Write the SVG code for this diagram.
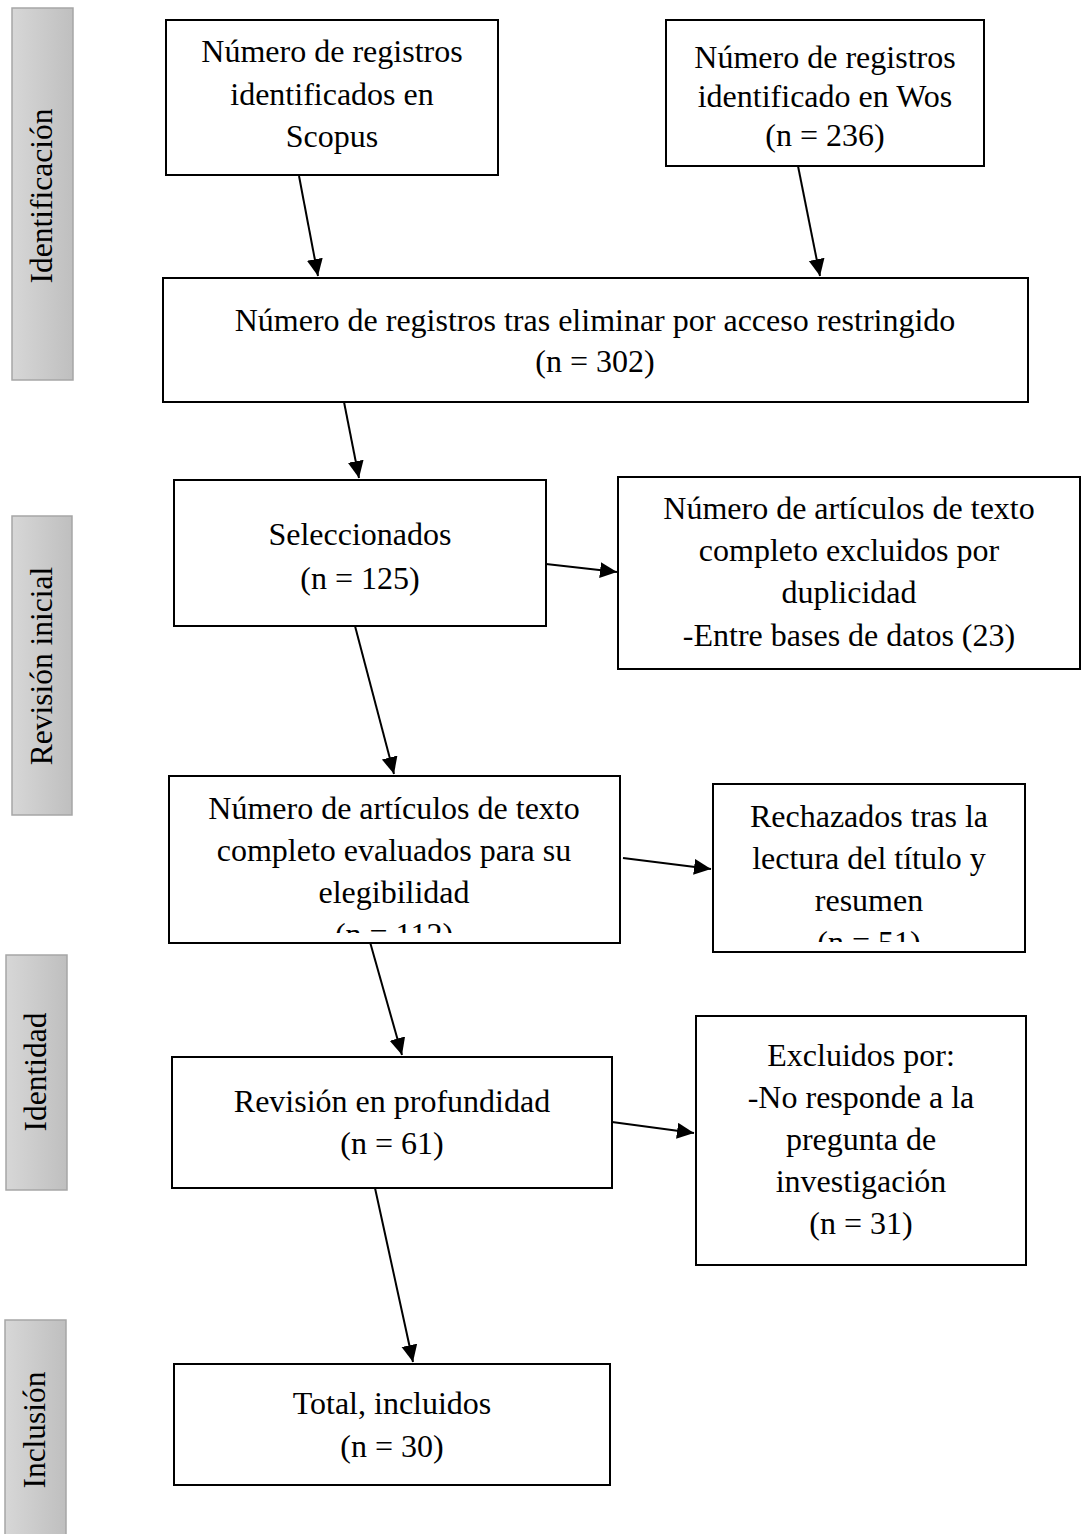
<svg xmlns="http://www.w3.org/2000/svg" width="1082" height="1534" viewBox="0 0 1082 1534">
<style>
.box{fill:#fff;stroke:#000;stroke-width:2}
.bar{fill:url(#g);stroke:#a6a6a6;stroke-width:1.5}
.t{font-family:"Liberation Serif","Times New Roman",serif;font-size:32px;fill:#000;text-anchor:middle}
.s{font-family:"Liberation Serif","Times New Roman",serif;font-size:31.5px;fill:#000;text-anchor:middle}
.c{stroke:#000;stroke-width:2;fill:none;marker-end:url(#ah)}
</style>
<defs>
<linearGradient id="g" x1="0" y1="0" x2="1" y2="0">
<stop offset="0" stop-color="#d7d7d7"/>
<stop offset="1" stop-color="#bfbfbf"/>
</linearGradient>
<marker id="ah" markerUnits="userSpaceOnUse" markerWidth="20" markerHeight="18" refX="17" refY="8" orient="auto">
<path d="M0,0 L17,8 L0,16 z" fill="#000"/>
</marker>
<clipPath id="clipA"><rect x="170" y="777" width="449" height="156"/></clipPath>
<clipPath id="clipR"><rect x="714" y="785" width="310" height="157"/></clipPath>
</defs>

<g id="phase-identificacion">
<rect class="bar" x="12" y="8" width="61" height="372"/>
<text class="s" transform="translate(52,196) rotate(-90)">Identificación</text>
</g>
<g id="phase-revision">
<rect class="bar" x="12" y="516" width="60" height="299"/>
<text class="s" transform="translate(52,666) rotate(-90)">Revisión inicial</text>
</g>
<g id="phase-identidad">
<rect class="bar" x="6" y="955" width="61" height="235"/>
<text class="s" transform="translate(46,1072) rotate(-90)">Identidad</text>
</g>
<g id="phase-inclusion">
<rect class="bar" x="5" y="1320" width="61" height="220"/>
<text class="s" transform="translate(45,1430) rotate(-90)">Inclusión</text>
</g>

<g id="connectors">
<line class="c" x1="299" y1="176" x2="318" y2="276"/>
<line class="c" x1="798" y1="166" x2="820" y2="276"/>
<line class="c" x1="344" y1="402" x2="359" y2="478"/>
<line class="c" x1="546" y1="564" x2="617" y2="572"/>
<line class="c" x1="355" y1="626" x2="394" y2="774"/>
<line class="c" x1="623" y1="858" x2="711" y2="869"/>
<line class="c" x1="370" y1="942" x2="402" y2="1055"/>
<line class="c" x1="612" y1="1122" x2="694" y2="1133"/>
<line class="c" x1="375" y1="1188" x2="413" y2="1362"/>
</g>

<g id="scopus">
<rect class="box" x="166" y="20" width="332" height="155"/>
<text class="t" x="332" y="62">Número de registros</text>
<text class="t" x="332" y="105">identificados en</text>
<text class="t" x="332" y="147">Scopus</text>
</g>
<g id="wos">
<rect class="box" x="666" y="20" width="318" height="146"/>
<text class="t" x="825" y="68">Número de registros</text>
<text class="t" x="825" y="107">identificado en Wos</text>
<text class="t" x="825" y="146">(n = 236)</text>
</g>
<g id="tras-eliminar">
<rect class="box" x="163" y="278" width="865" height="124"/>
<text class="t" x="595" y="331">Número de registros tras eliminar por acceso restringido</text>
<text class="t" x="595" y="372">(n = 302)</text>
</g>
<g id="seleccionados">
<rect class="box" x="174" y="480" width="372" height="146"/>
<text class="t" x="360" y="545">Seleccionados</text>
<text class="t" x="360" y="589">(n = 125)</text>
</g>
<g id="excluidos-duplicidad">
<rect class="box" x="618" y="477" width="462" height="192"/>
<text class="t" x="849" y="519">Número de artículos de texto</text>
<text class="t" x="849" y="561">completo excluidos por</text>
<text class="t" x="849" y="603">duplicidad</text>
<text class="t" x="849" y="646">-Entre bases de datos (23)</text>
</g>
<g id="evaluados">
<rect class="box" x="169" y="776" width="451" height="167"/>
<g clip-path="url(#clipA)">
<text class="t" x="394" y="819">Número de artículos de texto</text>
<text class="t" x="394" y="861">completo evaluados para su</text>
<text class="t" x="394" y="903">elegibilidad</text>
<text class="t" x="394" y="945">(n = 112)</text>
</g>
</g>
<g id="rechazados">
<rect class="box" x="713" y="784" width="312" height="168"/>
<g clip-path="url(#clipR)">
<text class="t" x="869" y="827">Rechazados tras la</text>
<text class="t" x="869" y="869">lectura del título y</text>
<text class="t" x="869" y="911">resumen</text>
<text class="t" x="869" y="953">(n = 51)</text>
</g>
</g>
<g id="profundidad">
<rect class="box" x="172" y="1057" width="440" height="131"/>
<text class="t" x="392" y="1112">Revisión en profundidad</text>
<text class="t" x="392" y="1154">(n = 61)</text>
</g>
<g id="excluidos-pregunta">
<rect class="box" x="696" y="1016" width="330" height="249"/>
<text class="t" x="861" y="1066">Excluidos por:</text>
<text class="t" x="861" y="1108">-No responde a la</text>
<text class="t" x="861" y="1150">pregunta de</text>
<text class="t" x="861" y="1192">investigación</text>
<text class="t" x="861" y="1234">(n = 31)</text>
</g>
<g id="total">
<rect class="box" x="174" y="1364" width="436" height="121"/>
<text class="t" x="392" y="1414">Total, incluidos</text>
<text class="t" x="392" y="1457">(n = 30)</text>
</g>
</svg>
